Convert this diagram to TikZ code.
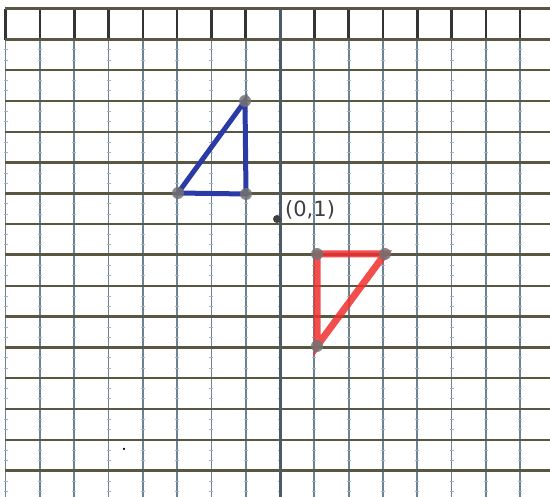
\documentclass[tikz,border=0pt]{standalone}
\usepackage{fontspec}
\setmainfont{DejaVu Sans}
\begin{document}
\begin{tikzpicture}[x=1pt,y=-1pt,
  hline/.style={draw=black!72!yellow!90!black, line width=2.4pt},
  vline/.style={draw=gridblue, line width=1.8pt},
  topv/.style={draw=black!80, line width=2.6pt},
  axisline/.style={line width=3pt},
  tick/.style={draw=gridblue!60, line width=0.7pt},
  vdot/.style={circle, fill=black!55, opacity=0.85, minimum size=12pt, inner sep=0pt},
  blueside/.style={draw=triblue, line width=5pt, line cap=round},
  redside/.style={draw=trired, line width=7pt, line cap=round, opacity=0.85},
  lbl/.style={text=black!75, font=\fontsize{21}{21}\selectfont, inner sep=0pt}]
\definecolor{gridblue}{HTML}{6C8295}
\definecolor{triblue}{HTML}{2B3BA6}
\definecolor{trired}{HTML}{F0302E}
\useasboundingbox (0,0) rectangle (550,497);
\fill[white] (0,0) rectangle (550,497);
% vertical grid lines
\foreach \k in {-8,...,7}{
  \pgfmathsetmacro{\xx}{280+34.3*\k}
  \draw[vline] (\xx,9) -- (\xx,497);
  \draw[topv] (\xx,9) -- (\xx,39.8);
  \foreach \j in {-7,...,7}{
    \pgfmathsetmacro{\ya}{255+30.8*\j+10.3}
    \pgfmathsetmacro{\yb}{255+30.8*\j+20.5}
    \draw[tick] (\xx-2,\ya) -- (\xx+2,\ya);
    \draw[tick] (\xx-2,\yb) -- (\xx+2,\yb);
  }
}
% horizontal grid lines
\foreach \k in {-8,...,7}{
  \pgfmathsetmacro{\yy}{255+30.8*\k}
  \draw[hline] (5,\yy) -- (550,\yy);
}
% axes
\draw[vline, axisline, draw=gridblue!70!black] (280,9) -- (280,497);
\draw[hline, axisline] (5,255) -- (550,255);
% blue triangle
\coordinate (b1) at (245,101);
\coordinate (b2) at (178,193);
\coordinate (b3) at (246,194);
\draw[blueside] (b1) -- (b2) -- (b3) -- cycle;
\node[vdot] (db1) at (b1) {};
\node[vdot] (db2) at (b2) {};
\node[vdot] (db3) at (b3) {};
% red triangle
\coordinate (r1) at (317,254);
\coordinate (r2) at (385,254);
\coordinate (r3) at (317,346);
\draw[redside] (r1) -- (r2) -- (r3) -- cycle;
\node[vdot] (dr1) at (r1) {};
\node[vdot] (dr2) at (r2) {};
\node[vdot] (dr3) at (r3) {};
% centre point
\node[circle, fill=black!75, minimum size=8pt, inner sep=0pt] (c) at (277,219) {};
\node[lbl, anchor=west] (cl) at (285,210) {(0,1)};
% stray dot
\node[circle, fill=black, minimum size=2.5pt, inner sep=0pt] (s) at (124,449) {};
\end{tikzpicture}
\end{document}
